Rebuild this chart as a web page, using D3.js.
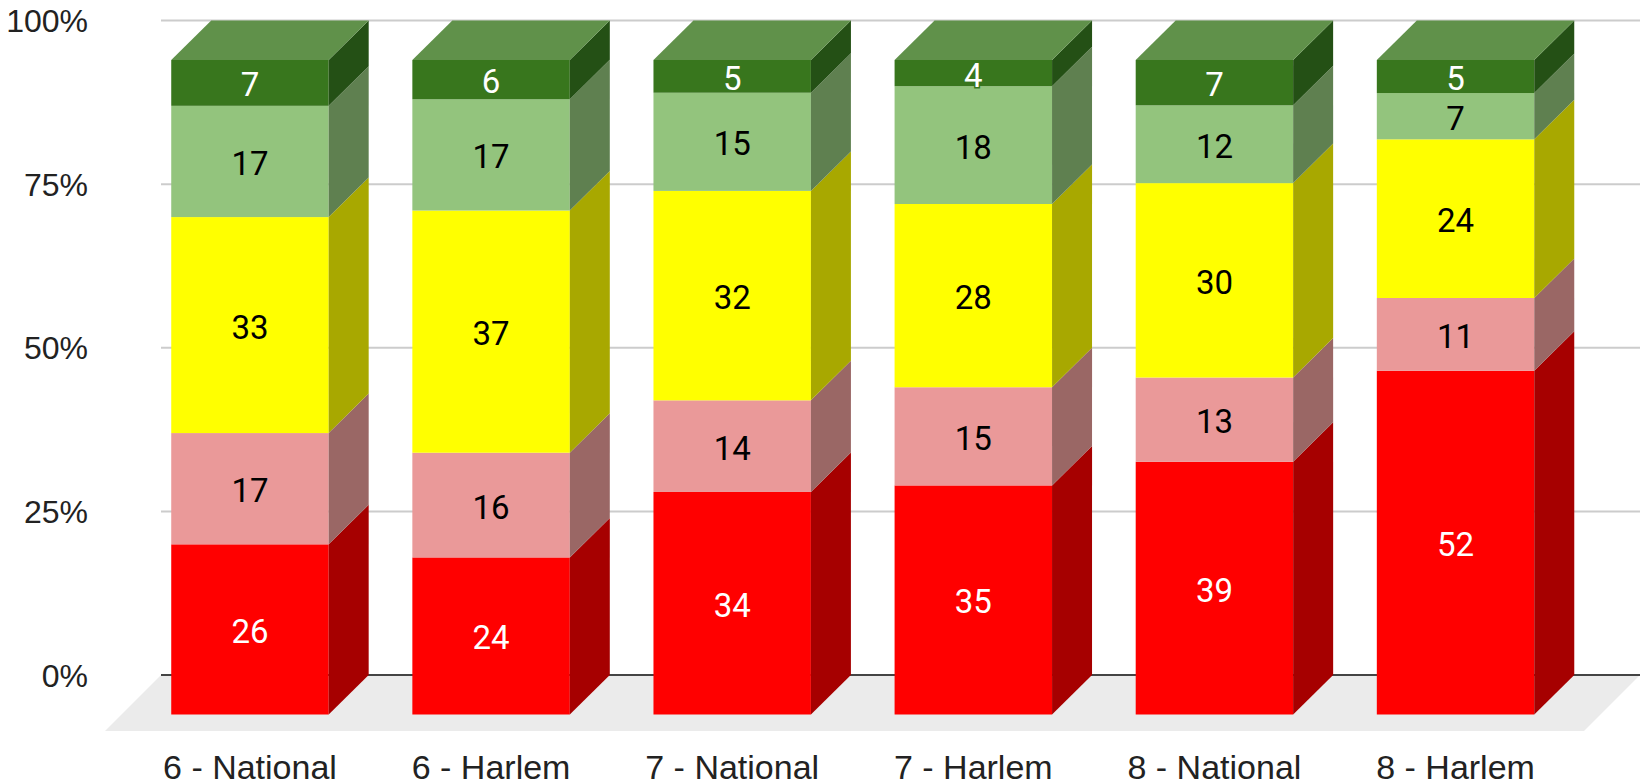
<!DOCTYPE html>
<html>
<head>
<meta charset="utf-8">
<script src="https://cdn.jsdelivr.net/npm/d3@7"></script>
<style>
  html, body { margin: 0; padding: 0; background: #fff; }
  svg { display: block; font-family: Roboto, "Noto Sans", sans-serif; }
</style>
</head>
<body>
<div id="chart"></div>
<script>
// data
var categories = ["6 - National", "6 - Harlem", "7 - National", "7 - Harlem", "8 - National", "8 - Harlem"];
var seriesKeys = ["red", "pink", "yellow", "lightgreen", "darkgreen"];
var red        = [26, 24, 34, 35, 39, 52];
var pink       = [17, 16, 14, 15, 13, 11];
var yellow     = [33, 37, 32, 28, 30, 24];
var lightgreen = [17, 17, 15, 18, 12, 7];
var darkgreen  = [7, 6, 5, 4, 7, 5];
var yTicks = [0, 0.25, 0.5, 0.75, 1];

// colours: front, side, top, label
var colors = {
    red:        {front: "#ff0000", side: "#a60000", top: "#ff4d4d", text: "#ffffff"},
    pink:       {front: "#ea9999", side: "#9a6765", top: "#f0b8b8", text: "#000000"},
    yellow:     {front: "#ffff00", side: "#a8a800", top: "#ffff66", text: "#000000"},
    lightgreen: {front: "#93c47d", side: "#5f8050", top: "#b3d6a4", text: "#000000"},
    darkgreen:  {front: "#38761d", side: "#245015", top: "#60914a", text: "#ffffff"}
};

var rows = categories.map(function (c, i) {
    return {cat: c, red: red[i], pink: pink[i], yellow: yellow[i], lightgreen: lightgreen[i], darkgreen: darkgreen[i]};
});

// size
var W = 1640, H = 783;
var depthX = 40, depthY = 39.5;   // 3d offset of the back plane
var backLeft = 161;
var axisFont = "'Liberation Sans', Arial, sans-serif";

var svg = d3.select("#chart").append("svg").attr("width", W).attr("height", H);

// front plane scales
var x = d3.scaleBand().domain(categories).range([129.4, 1576.1]).paddingInner(0.347).paddingOuter(0.1735);
var y = d3.scaleLinear().domain([0, 1]).range([714.5, 60]);

var stack = d3.stack().keys(seriesKeys).offset(d3.stackOffsetExpand);
var layers = stack(rows);

// floor
var floorY0 = y(0) - depthY, floorY1 = 731;
var floorDepth = floorY1 - floorY0;
svg.append("path")
    .attr("d", "M" + backLeft + "," + floorY0 + "L" + W + "," + floorY0 +
        "L" + (W - floorDepth) + "," + floorY1 + "L" + (backLeft - floorDepth) + "," + floorY1 + "Z")
    .attr("fill", "#ebebeb");

// gridlines on the back plane
var grid = svg.append("g");
grid.selectAll("line").data(yTicks.filter(function (d) { return d > 0; }))
    .enter().append("line")
    .attr("x1", backLeft).attr("x2", W)
    .attr("y1", function (d) { return y(d) - depthY; })
    .attr("y2", function (d) { return y(d) - depthY; })
    .attr("stroke", "#cccccc").attr("stroke-width", 2);

svg.append("line")
    .attr("x1", backLeft).attr("x2", W)
    .attr("y1", y(0) - depthY).attr("y2", y(0) - depthY)
    .attr("stroke", "#444444").attr("stroke-width", 2);

// y axis labels
var yAxis = d3.axisLeft(d3.scaleLinear().domain([0, 1]).range([y(0) - depthY, y(1) - depthY]))
    .tickValues(yTicks).tickFormat(d3.format(".0%")).tickSize(0).tickPadding(0);
var gy = svg.append("g").attr("transform", "translate(88,0)").call(yAxis);
gy.select(".domain").remove();
gy.selectAll("text").attr("font-family", axisFont).attr("font-size", 32).attr("fill", "#222222")
    .attr("dy", "0.35em");

// bars
var bars = svg.append("g");
layers.forEach(function (layer) {
    var key = layer.key;
    var c = colors[key];
    var g = bars.append("g").attr("class", "series-" + key);
    layer.forEach(function (d) {
        var cat = d.data.cat;
        var x0 = x(cat), x1 = x(cat) + x.bandwidth();
        var yb = y(d[0]), yt = y(d[1]);
        // front
        g.append("rect").attr("x", x0).attr("y", yt).attr("width", x1 - x0).attr("height", yb - yt)
            .attr("fill", c.front);
        // side
        g.append("path")
            .attr("d", "M" + x1 + "," + yt + "L" + x1 + "," + yb + "L" + (x1 + depthX) + "," + (yb - depthY) +
                "L" + (x1 + depthX) + "," + (yt - depthY) + "Z")
            .attr("fill", c.side);
        // top face only on the last series
        if (key === seriesKeys[seriesKeys.length - 1]) {
            g.append("path")
                .attr("d", "M" + x0 + "," + yt + "L" + x1 + "," + yt + "L" + (x1 + depthX) + "," + (yt - depthY) +
                    "L" + (x0 + depthX) + "," + (yt - depthY) + "Z")
                .attr("fill", c.top);
        }
    });
});

// data labels
layers.forEach(function (layer) {
    var c = colors[layer.key];
    var vals = {red: red, pink: pink, yellow: yellow, lightgreen: lightgreen, darkgreen: darkgreen}[layer.key];
    svg.append("g").selectAll("text").data(layer).enter().append("text")
        .attr("x", function (d) { return x(d.data.cat) + x.bandwidth() / 2; })
        .attr("y", function (d) { return (y(d[0]) + y(d[1])) / 2; })
        .attr("dy", "0.41em")
        .attr("text-anchor", "middle")
        .attr("font-size", 33)
        .attr("fill", c.text)
        .attr("stroke", c.front).attr("stroke-width", 3).attr("paint-order", "stroke")
        .text(function (d, i) { return vals[i]; });
});

// x axis labels
var xAxis = d3.axisBottom(x).tickSize(0).tickPadding(0);
var gx = svg.append("g").attr("transform", "translate(0,754.5)").call(xAxis);
gx.select(".domain").remove();
gx.selectAll("text").attr("font-family", axisFont).attr("font-size", 34).attr("fill", "#222222")
    .attr("dy", "0.71em");
</script>
</body>
</html>
